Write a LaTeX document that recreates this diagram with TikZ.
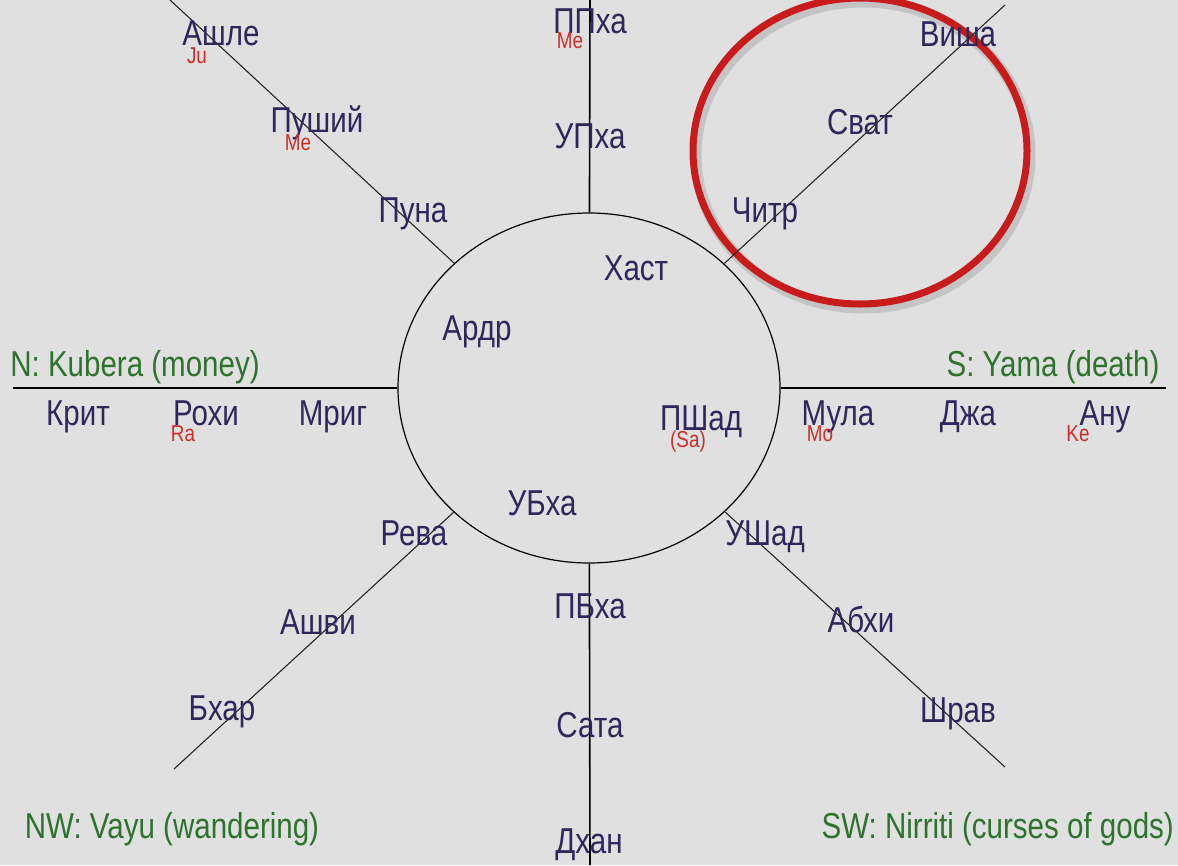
\documentclass[tikz,border=0pt]{standalone}
\usepackage{fontspec}
\setmainfont{Liberation Sans}[FakeStretch=0.82]
\usetikzlibrary{shapes.geometric}
\definecolor{bg}{RGB}{224,224,224}
\definecolor{nakc}{RGB}{48,38,92}
\definecolor{dirc}{RGB}{45,115,45}
\definecolor{plc}{RGB}{205,45,40}
\definecolor{hlred}{RGB}{200,28,28}
\begin{document}
\begin{tikzpicture}[x=1pt,y=-1pt,
  nak/.style={inner sep=0pt,anchor=base,text=nakc,font=\fontsize{36}{36}\selectfont},
  planet/.style={inner sep=0pt,anchor=base,text=plc,font=\fontsize{23}{23}\selectfont},
  dirlab/.style={inner sep=0pt,anchor=base,text=dirc,font=\fontsize{36}{36}\selectfont},
  axisline/.style={draw=black,line width=1.6pt},
  diagline/.style={draw=black!85,line width=1.1pt},
  hub/.style={draw=black,ellipse,line width=1.2pt,inner sep=0pt,minimum width=382pt,minimum height=350pt},
  ring/.style={draw=hlred,ellipse,line width=7pt,inner sep=0pt,minimum width=334pt,minimum height=306pt}]
\fill[bg] (0,0) rectangle (1178,865);
\useasboundingbox (0,0) rectangle (1178,865);

% highlight ring with soft shadow
\node[ellipse,draw=black,opacity=0.12,line width=11pt,inner sep=0pt,minimum width=334pt,minimum height=306pt] (hlshadow) at (863,155) {};
\node[ring] (hl) at (860,151) {};

% hub
\node[hub] (c) at (589,388) {};

% end points
\coordinate (top) at (590,0);
\coordinate (bot) at (590,865);
\coordinate (lft) at (13,388);
\coordinate (rgt) at (1166,388);
\coordinate (ul) at (170,0);
\coordinate (ur) at (1005,5);
\coordinate (ll) at (174,769);
\coordinate (lr) at (1005,767);

\draw[axisline] (c) -- (top);
\draw[axisline] (c) -- (bot);
\draw[axisline] (c.west) -- (lft);
\draw[axisline] (c.east) -- (rgt);
\draw[diagline] (c) -- (ul);
\draw[diagline] (c) -- (ur);
\draw[diagline] (c) -- (ll);
\draw[diagline] (c) -- (lr);

% upper left
\node[nak] (ashle) at (221,45) {Ашле};
\node[planet] (ju) at (197,63) {Ju};
\node[nak] (pushi) at (317,132) {Пуший};
\node[planet] (me1) at (298,150) {Me};
\node[nak] (puna) at (413,222) {Пуна};

% top
\node[nak] (ppha) at (590,33) {ППха};
\node[planet] (me2) at (570,48) {Me};
\node[nak] (upha) at (590,148) {УПха};

% upper right
\node[nak] (chitr) at (765,222) {Читр};
\node[nak] (svat) at (860,134) {Сват};
\node[nak] (visha) at (958,46) {Виша};

% inside
\node[nak] (hast) at (636,280) {Хаст};
\node[nak] (ardr) at (477,340) {Ардр};
\node[nak] (pshad) at (701,430) {ПШад};
\node[planet] (sa) at (688,447) {(Sa)};
\node[nak] (ubha) at (542,515) {УБха};

% left
\node[dirlab] (north) at (135,376) {N: Kubera (money)};
\node[nak] (krit) at (78,425) {Крит};
\node[nak] (rohi) at (206,425) {Рохи};
\node[planet] (ra) at (183,441) {Ra};
\node[nak] (mrig) at (333,425) {Мриг};

% right
\node[dirlab] (south) at (1053,376) {S: Yama (death)};
\node[nak] (mula) at (838,425) {Мула};
\node[planet] (mo) at (820,441) {Mo};
\node[nak] (dzha) at (968,425) {Джа};
\node[nak] (anu) at (1105,425) {Ану};
\node[planet] (ke) at (1078,441) {Ke};

% lower left
\node[nak] (reva) at (414,545) {Рева};
\node[nak] (ashvi) at (318,634) {Ашви};
\node[nak] (bhar) at (222,720) {Бхар};
\node[dirlab] (nw) at (172,838) {NW: Vayu (wandering)};

% bottom
\node[nak] (pbha) at (590,618) {ПБха};
\node[nak] (sata) at (590,737) {Сата};
\node[nak] (dhan) at (589,853) {Дхан};

% lower right
\node[nak] (ushad) at (765,545) {УШад};
\node[nak] (abhi) at (861,632) {Абхи};
\node[nak] (shrav) at (958,722) {Шрав};
\node[dirlab,anchor=base east] (sw) at (1174,838) {SW: Nirriti (curses of gods)};
\end{tikzpicture}
\end{document}
